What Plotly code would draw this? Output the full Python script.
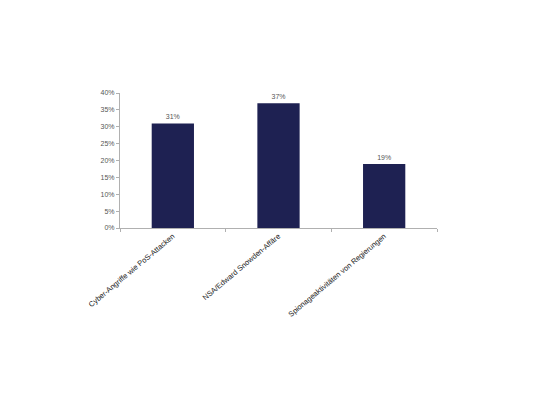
import plotly.graph_objects as go

categories = ["Cyber-Angriffe wie PoS-Attacken", "NSA/Edward Snowden-Affäre", "Spionageaktivitäten von Regierungen"]
values = [0.31, 0.37, 0.19]
value_labels = ["31%", "37%", "19%"]
tick_vals = [0, 0.05, 0.10, 0.15, 0.20, 0.25, 0.30, 0.35, 0.40]
tick_text = ["0%", "5%", "10%", "15%", "20%", "25%", "30%", "35%", "40%"]

fig = go.Figure(go.Bar(
    x=categories, y=values,
    text=value_labels, textposition="outside",
    textfont=dict(family="Arial, Liberation Sans", size=7, color="#555555"),
    marker=dict(color="#1e2152", line=dict(width=0)),
    cliponaxis=False,
))

fig.update_layout(
    width=533, height=400,
    margin=dict(l=112, r=104, t=85, b=180, autoexpand=False),
    paper_bgcolor="white", plot_bgcolor="white",
    bargap=0.6, showlegend=False,
    font=dict(family="Arial, Liberation Sans", size=7, color="#555555"),
)
fig.update_yaxes(
    range=[0, 0.40], tickvals=tick_vals, ticktext=tick_text,
    showgrid=False, zeroline=False,
    showline=True, linecolor="#b0b0b0", linewidth=1,
    ticks="outside", ticklen=3, tickcolor="#b0b0b0",
    tickfont=dict(size=7, color="#555555"),
)
fig.update_xaxes(
    showgrid=False, showline=True, linecolor="#b0b0b0", linewidth=1,
    ticks="outside", ticklen=3, tickcolor="#b0b0b0", tickson="boundaries",
    tickangle=-40, tickfont=dict(size=7.5, color="#1a1a1a"),
)

fig.write_html("out.html")
